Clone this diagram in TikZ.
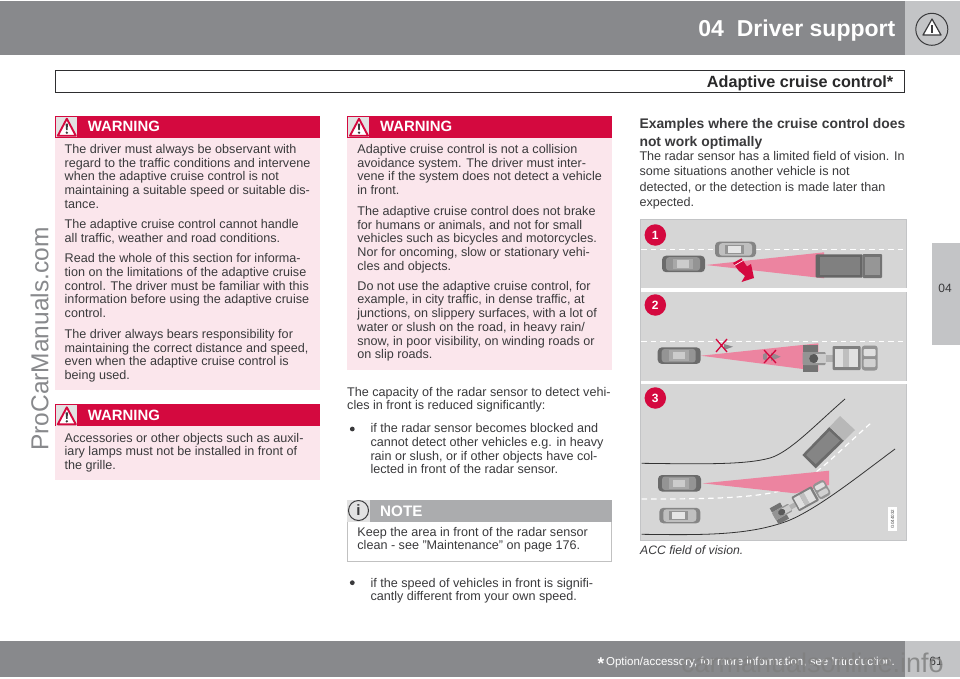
\documentclass[tikz,border=0pt]{standalone}
\usepackage{fontspec}
\setmainfont{Liberation Sans}
\definecolor{hdr}{HTML}{88898C}
\definecolor{hdrl}{HTML}{C3C4C6}
\definecolor{crim}{HTML}{D4093F}
\definecolor{pinkbg}{HTML}{FBE6EC}
\definecolor{txt}{HTML}{3A3A3C}
\definecolor{road}{HTML}{D6D6D6}
\definecolor{beam}{HTML}{EC84A0}
\definecolor{noteh}{HTML}{ABACAE}
\tikzset{x=1pt,y=-1pt,
 body/.style={anchor=north west,inner sep=0pt,align=left,text=txt,font=\fontsize{12.6}{13.75}\selectfont,execute at begin node={\rule{0pt}{10pt}}},
 warnhd/.style={anchor=base west,inner sep=0pt,text=white,font=\bfseries\fontsize{14.9}{16}\selectfont},
 badge/.style={circle,fill=crim,draw=none,minimum size=21.5pt,inner sep=0pt,text=white,font=\bfseries\fontsize{12}{14}\selectfont},
 wbox/.pic={
  \fill[crim] (0,0) rectangle (265.3,22);
  \fill[road!70!white] (0.8,0.8) rectangle (22.3,21.2);
  \draw[crim,line width=1.9pt,line join=round,fill=white] (3,20) -- (12,3) -- (21,20) -- cycle;
  \fill[txt] (10.8,8) -- (13.2,8) -- (12.7,14.5) -- (11.3,14.5) -- cycle;
  \fill[txt] (12,17) circle (1.3);
 },
 lanedash/.style={white,line width=1.2pt,dash pattern=on 5.5pt off 4pt},
 carbody/.pic={
  % 43 by 16.5, nose to the right
  \fill[black!58,rounded corners=4pt] (0,0) rectangle (43,16.5);
  \fill[black!42,rounded corners=3pt] (4,1.5) rectangle (38,15);
  \fill[black!34] (11,3) rectangle (31,13.5);
  \fill[black!20] (15,4.5) rectangle (27,12);
 },
 carlight/.pic={
  \fill[black!48,rounded corners=4pt] (0,0) rectangle (41,15.5);
  \fill[black!25,rounded corners=3pt] (4,1.5) rectangle (37,14);
  \fill[black!42] (10,3) rectangle (29,12.5);
  \fill[black!10] (13,4.5) rectangle (26,11);
 },
 lorry/.pic={
  % 76 by 28, front to the left
  \fill[black!55] (1.5,1) rectangle (16,8);
  \fill[black!55] (1.5,21) rectangle (16,28);
  \fill[black!42,rounded corners=1pt] (1,8) rectangle (24,21);
  \fill[black!20] (14,10) rectangle (24,19);
  \fill[black!65] (12,14.5) circle (4.5);
  \fill[black!30] (24,11) rectangle (31,18);
  \fill[black!50,rounded corners=1pt] (31,2) rectangle (59,26);
  \fill[black!12] (33,5) rectangle (41,23);
  \fill[black!25] (41,5) rectangle (47,23);
  \fill[black!12] (47,5) rectangle (56,23);
  \fill[black!42,rounded corners=3pt] (60,1.5) rectangle (76,26.5);
  \fill[black!12,rounded corners=1pt] (62,5) rectangle (74,12);
  \fill[black!18,rounded corners=1pt] (62,15) rectangle (74,23);
 },
}
\begin{document}
\begin{tikzpicture}
\useasboundingbox (0,0) rectangle (960,678);
\fill[white] (0,0) rectangle (960,678);
% header
\fill[hdr] (0,1) rectangle (905,55);
\fill[hdrl] (905,1) rectangle (960,55);
\node[anchor=base east,inner sep=0pt,text=white,font=\bfseries\fontsize{23}{28}\selectfont] (title) at (895.5,36) {04\hspace{13pt}Driver support};
\draw[txt,line width=1pt] (931.8,29.3) circle (16);
\draw[txt,line width=1.2pt,fill=white,line join=round] (923,35) -- (932,19) -- (941,35) -- cycle;
\fill[txt] (931.4,24.5) rectangle (932.6,33);
% section bar
\draw[txt!80!black,line width=1pt] (55.5,70) rectangle (904.5,92.6);
\node[anchor=base east,inner sep=0pt,text=txt!70!black,font=\bfseries\fontsize{16.2}{18}\selectfont] (section) at (893.5,87.3) {Adaptive cruise control*};
% side tab
\fill[hdrl] (932,243) rectangle (960,345);
\node[inner sep=0pt,text=txt,font=\fontsize{12}{14}\selectfont] (tab) at (945,288) {04};
% watermark left
\node[rotate=90,inner sep=0pt,text=hdr,font=\fontsize{24.5}{28}\selectfont] (wmleft) at (39.5,339) {ProCarManuals.com};
% column 1
\fill[pinkbg] (54.8,115.7) rectangle (320,390);
\pic at (54.8,115.7) {wbox};
\node[warnhd] (w1) at (87.7,131.7) {WARNING};
\node[body] (t1) at (64.5,144) {The driver must always be observant with\\regard to the traffic conditions and intervene\\when the adaptive cruise control is not\\maintaining a suitable speed or suitable dis-\\tance.};
\node[body] (t2) at (64.5,219.3) {The adaptive cruise control cannot handle\\all traffic, weather and road conditions.};
\node[body] (t3) at (64.5,253.3) {Read the whole of this section for informa-\\tion on the limitations of the adaptive cruise\\control. The driver must be familiar with this\\information before using the adaptive cruise\\control.};
\node[body] (t4) at (64.5,329) {The driver always bears responsibility for\\maintaining the correct distance and speed,\\even when the adaptive cruise control is\\being used.};
\fill[pinkbg] (54.8,404.3) rectangle (320,480);
\pic at (54.8,404.3) {wbox};
\node[warnhd] (w2) at (87.7,420.3) {WARNING};
\node[body] (t5) at (64.5,432.7) {Accessories or other objects such as auxil-\\iary lamps must not be installed in front of\\the grille.};
% column 2
\fill[pinkbg] (347,115.7) rectangle (612.3,370);
\pic at (347,115.7) {wbox};
\node[warnhd] (w3) at (380,131.7) {WARNING};
\node[body] (t6) at (357.2,144) {Adaptive cruise control is not a collision\\avoidance system. The driver must inter-\\vene if the system does not detect a vehicle\\in front.};
\node[body] (t7) at (357.2,206) {The adaptive cruise control does not brake\\for humans or animals, and not for small\\vehicles such as bicycles and motorcycles.\\Nor for oncoming, slow or stationary vehi-\\cles and objects.};
\node[body] (t8) at (357.2,280.7) {Do not use the adaptive cruise control, for\\example, in city traffic, in dense traffic, at\\junctions, on slippery surfaces, with a lot of\\water or slush on the road, in heavy rain/\\snow, in poor visibility, on winding roads or\\on slip roads.};
\node[body] (t9) at (347,386.7) {The capacity of the radar sensor to detect vehi-\\cles in front is reduced significantly:};
\fill[txt] (352.3,429) circle (2.4);
\node[body] (t10) at (370.3,423.3) {if the radar sensor becomes blocked and\\cannot detect other vehicles e.g. in heavy\\rain or slush, or if other objects have col-\\lected in front of the radar sensor.};
% note
\draw[road!90!black,line width=.8pt] (347.5,500) rectangle (611.5,561);
\fill[noteh] (347,500) rectangle (612,521.7);
\fill[road!70!white] (347,500) rectangle (369.5,521.7);
\node[circle,draw=txt,line width=1pt,fill=road!70!white,minimum size=20pt,inner sep=0pt,text=txt,font=\bfseries\fontsize{15}{16}\selectfont] (info) at (358.5,510.5) {i};
\node[warnhd,font=\bfseries\fontsize{15.2}{16}\selectfont] (nt) at (380,516) {NOTE};
\node[body] (t11) at (357.2,526.7) {Keep the area in front of the radar sensor\\clean - see "Maintenance" on page 176.};
\fill[txt] (352.3,582.7) circle (2.4);
\node[body] (t12) at (370.3,577.7) {if the speed of vehicles in front is signifi-\\cantly different from your own speed.};
% column 3
\node[anchor=north west,inner sep=0pt,align=left,text=txt,font=\bfseries\fontsize{13.9}{17.7}\selectfont,execute at begin node={\rule{0pt}{10pt}}] (h3) at (639.3,118.3) {Examples where the cruise control does\\not work optimally};
\node[body,font=\fontsize{12.6}{15.5}\selectfont] (t13) at (639.3,151) {The radar sensor has a limited field of vision. In\\some situations another vehicle is not\\detected, or the detection is made later than\\expected.};
% figure
\fill[road] (640,219) rectangle (907,541);
\draw[hdrl,line width=.8pt] (640.4,219.4) rectangle (906.6,540.6);
\fill[white] (641,287.8) rectangle (906.5,291.6);
\fill[white] (641,380.8) rectangle (906.5,384.4);
\draw[lanedash] (641,249.7) -- (906,249.7);
\draw[lanedash] (641,341.7) -- (906,341.7);
% scene 1
\fill[beam] (706,265) -- (824,252.3) -- (824,278.3) -- cycle;
\fill[black!60,rounded corners=1pt] (815.7,254.3) rectangle (862.7,277.7);
\fill[black!50] (820,257) rectangle (860,275);
\fill[black!55,rounded corners=1pt] (862.7,254) rectangle (882,278);
\fill[road!70!black] (864.5,257) rectangle (880,275);
\pic at (662,255.7) {carbody};
\pic at (715,241.7) {carlight};
\fill[crim] (733,263) -- (741.5,258.3) -- (747,266.5) -- (751,264) -- (754,278) -- (741.5,282) -- (745,276) -- (738.5,270.5) -- cycle;
\draw[white,line width=.7pt] (734.5,265.5) -- (743,260.5);
\node[badge] (b1) at (655.3,235) {1};
% scene 2
\fill[beam] (701,355.7) -- (818.3,343.3) -- (818.3,371) -- cycle;
\pic at (657.7,347.4) {carbody};
\pic at (801.7,344) {lorry};
\fill[hdr] (724,344) -- (733,346.7) -- (724,350) -- cycle;
\fill[hdr!85!beam] (771,352.5) -- (780.7,356.7) -- (771,361) -- cycle;
\fill[hdr!85!beam] (763,354.5) -- (767,352) -- (767,361) -- (763,359) -- cycle;
\draw[crim,line width=1.3pt] (716,339) -- (727,352) (727,339) -- (716,352);
\draw[crim,line width=1.3pt] (764,350) -- (776,363) (776,350) -- (764,363);
\node[badge] (b2) at (655.3,305) {2};
% scene 3
\draw[black!80,line width=.8pt] (641.7,463.3) .. controls (700,464) and (745,465) .. (770,458) .. controls (790,452) and (815,425) .. (845,399);
\draw[black!80,line width=.8pt] (641.7,534.3) .. controls (700,535) and (750,536) .. (790,520) .. controls (820,507) and (860,475) .. (895,449);
\draw[lanedash] (641.7,499) .. controls (700,499) and (760,499) .. (790,488) .. controls (815,478) and (840,450) .. (871,423);
\fill[beam] (702.7,483.3) -- (829,470.7) -- (829,485) -- (795,493.3) -- cycle;
\fill[black!58] (802.3,455) -- (829.4,427) -- (844,440.7) -- (815.7,468.3) -- cycle;
\fill[black!48] (806,455) -- (829.4,431) -- (840,440.7) -- (815.7,464) -- cycle;
\fill[black!28] (829.4,427) -- (840,416) -- (855,430) -- (844,440.7) -- cycle;
\pic[rotate=29,xscale=.82,yscale=.68] at (768.3,508.3) {lorry};
\pic at (658,475) {carbody};
\pic at (659.3,507.8) {carlight};
\fill[white] (888,506.7) rectangle (897,530.7);
\node[rotate=90,inner sep=0pt,text=black!70,font=\fontsize{4.5}{5}\selectfont] (code) at (892.5,519) {G044032};
\node[badge] (b3) at (655.3,398) {3};
\node[anchor=base west,inner sep=0pt,text=txt,font=\itshape\fontsize{12.2}{14}\selectfont] (cap) at (640,554) {ACC field of vision.};
% footer
\fill[hdr] (0,641) rectangle (905,677);
\fill[hdrl] (905,641) rectangle (960,677);
\node[anchor=base east,inner sep=0pt,text=white,font=\fontsize{11.5}{14}\selectfont] (foot) at (895,665) {Option/accessory, for more information, see Introduction.};
\node[anchor=base east,inner sep=0pt,text=white,font=\bfseries\fontsize{17}{14}\selectfont] (star) at (604.5,669) {*};
\node[anchor=base,inner sep=0pt,text=txt,font=\fontsize{12}{14}\selectfont] (pg) at (936,665) {61};
\node[anchor=base east,inner sep=0pt,text=black!50,opacity=.85,font=\fontsize{27}{28}\selectfont] (wmb) at (944,672) {carmanualsonline.info};
\end{tikzpicture}
\end{document}
